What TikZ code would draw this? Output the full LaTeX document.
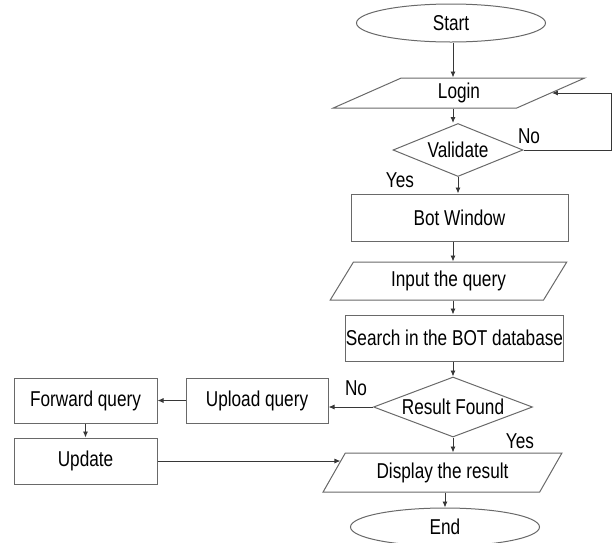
\documentclass[tikz,border=0pt]{standalone}
\usepackage{fontspec}
\setmainfont{Liberation Sans}[FakeStretch=0.8]
\usepackage{tikz}
\usetikzlibrary{arrows.meta, positioning, shapes.geometric, calc}
\usepackage{xcolor}
\definecolor{shapegray}{RGB}{105,105,105}
\definecolor{linegray}{RGB}{55,55,55}

\begin{document}
\begin{tikzpicture}[x=1pt, y=-1pt,
    font=\fontsize{21.5}{25}\selectfont,
    term/.style={draw=shapegray, line width=1pt, ellipse, inner sep=0pt, minimum width=189pt, minimum height=38pt},
    box/.style={draw=shapegray, line width=1pt, rectangle, inner sep=0pt, minimum width=#1, minimum height=46pt},
    box/.default=217pt,
    io/.style={draw=shapegray, line width=1pt, trapezium, trapezium stretches=true, inner sep=0pt},
    decision/.style={draw=shapegray, line width=1pt, diamond, aspect=2.5, inner sep=0pt},
    arr/.style={draw=linegray, line width=0.9pt, -{Latex[length=6pt, width=5pt]}},
    lbl/.style={inner sep=0pt}]
    \useasboundingbox (0,0) rectangle (613,542);
    \coordinate (mid) at (453,0);
    \coordinate (loopx) at (611.5,0);

    % main column
    \node[term] (start) at (451,23) {Start};
    \node[io, minimum width=252pt, minimum height=30pt, trapezium left angle=39, trapezium right angle=141] (login) at (459,93) {Login};
    \node[decision, minimum width=130pt, minimum height=53pt] (validate) at (458,150) {Validate};
    \node[box, minimum height=47pt] (botwin) at (459.5,217.5) {Bot Window};
    \node[io, minimum width=237pt, minimum height=38pt, trapezium left angle=55, trapezium right angle=125] (input) at (448.5,281) {Input the query};
    \node[box] (search) at (454.5,338) {Search in the BOT database};
    \node[decision, minimum width=159pt, minimum height=60pt] (result) at (453,407) {Result Found};
    \node[io, minimum width=239pt, minimum height=39pt, trapezium left angle=53, trapezium right angle=127] (display) at (442.5,472.5) {Display the result};
    \node[term] (end) at (445,527) {End};

    % side branch
    \node[box=142pt, minimum height=45pt] (upload) at (257,400.5) {Upload query};
    \node[box=143pt, minimum height=45pt] (forward) at (85.5,400.5) {Forward query};
    \node[box=143pt] (update) at (85.5,461) {Update};

    \node[lbl] (no1) at (529,136) {No};
    \node[lbl] (yes1) at (400,180) {Yes};
    \node[lbl] (no2) at (356,388) {No};
    \node[lbl] (yes2) at (520,441) {Yes};

    \draw[arr] (start.south -| mid) -- (login.north -| mid);
    \draw[arr] (login.south -| mid) -- (validate.north -| mid);
    \draw[arr] (validate.east) -- (validate.east -| loopx) |- (login.right side);
    \draw[arr] (validate.south) -- (validate.south |- botwin.north);
    \draw[arr] (botwin.south -| mid) -- (input.north -| mid);
    \draw[arr] (input.south -| mid) -- (search.north -| mid);
    \draw[arr] (search.south -| mid) -- (result.north -| mid);
    \draw[arr] (result.west) -- (result.west -| upload.east);
    \draw[arr] (upload.west) -- (forward.east);
    \draw[arr] (forward.south) -- (update.north);
    \coordinate (dispin) at ($(display.top left corner)!0.2!(display.bottom left corner)$);
    \draw[arr] (update.east) -- (update.east -| dispin);
    \draw[arr] (result.south) -- (result.south |- display.north);
    \draw[arr] (display.south -| end.north) -- (end.north);
\end{tikzpicture}
\end{document}
